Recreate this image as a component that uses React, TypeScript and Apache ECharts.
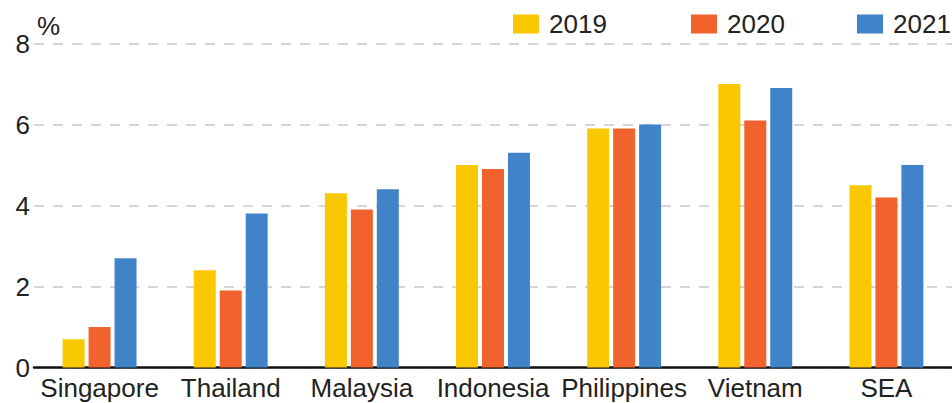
import React, { useEffect, useRef } from "react";
import * as echarts from "echarts";

const categories = ["Singapore", "Thailand", "Malaysia", "Indonesia", "Philippines", "Vietnam", "SEA"];
const values2019 = [0.7, 2.4, 4.3, 5.0, 5.9, 7.0, 4.5];
const values2020 = [1.0, 1.9, 3.9, 4.9, 5.9, 6.1, 4.2];
const values2021 = [2.7, 3.8, 4.4, 5.3, 6.0, 6.9, 5.0];
const seriesNames = ["2019", "2020", "2021"];
const colors = ["#F9C800", "#F1622D", "#4183C9"];
const yTicks = { min: 0, max: 8, interval: 2 };

const FONT = "'Liberation Sans', Arial, Helvetica, sans-serif";
const TEXT = "#222222";

export default function App() {
  const ref = useRef<HTMLDivElement>(null);
  useEffect(() => {
    if (!ref.current) return;
    const chart = echarts.init(ref.current, undefined, { renderer: "svg" });
    const data = [values2019, values2020, values2021];
    const legendLefts = [513, 691, 857];
    chart.setOption({
      animation: false,
      backgroundColor: "#ffffff",
      textStyle: { fontFamily: FONT },
      grid: { left: 34, right: -2, top: 43.5, bottom: 35.5, containLabel: false },
      legend: seriesNames.map((n, i) => ({
        data: [n],
        left: legendLefts[i],
        top: 11,
        padding: 0,
        itemWidth: 26,
        itemHeight: 19,
        icon: "rect",
        textStyle: { fontSize: 26, color: TEXT, fontFamily: FONT, padding: [0, 0, 0, 5] },
      })),
      graphic: [
        {
          type: "text",
          left: 37,
          top: 13,
          style: { text: "%", fontSize: 26, fill: TEXT, fontFamily: FONT },
        },
      ],
      xAxis: {
        type: "category",
        data: categories,
        axisLine: { lineStyle: { color: "#111111", width: 2.5 } },
        axisTick: { show: false },
        axisLabel: { fontSize: 26, color: TEXT, margin: 7, fontFamily: FONT, interval: 0 },
      },
      yAxis: {
        type: "value",
        min: yTicks.min,
        max: yTicks.max,
        interval: yTicks.interval,
        axisLine: { show: false },
        axisTick: { show: false },
        axisLabel: { fontSize: 26, color: TEXT, margin: 4, fontFamily: FONT },
        splitLine: { lineStyle: { color: "#c8c8c8", width: 1.5, type: [10, 9] } },
      },
      series: seriesNames.map((n, i) => ({
        name: n,
        type: "bar",
        data: data[i],
        barWidth: 22,
        barGap: "18%",
        itemStyle: { color: colors[i] },
      })),
    });
    return () => chart.dispose();
  }, []);
  return <div ref={ref} style={{ width: 952, height: 403, position: "absolute", left: 0, top: 0 }} />;
}
